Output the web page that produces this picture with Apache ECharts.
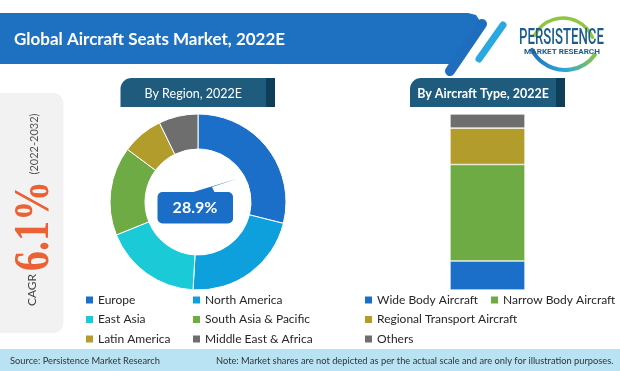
<!DOCTYPE html>
<html><head><meta charset="utf-8">
<script src="https://cdn.jsdelivr.net/npm/echarts@6/dist/echarts.min.js"></script>
<style>html,body{margin:0;padding:0;background:#fff}#c{width:620px;height:371px}</style>
</head><body><div id="c"></div>
<script>
var regionNames = ['Europe','North America','East Asia','South Asia & Pacific','Latin America','Middle East & Africa'];
var regionValues = [28.9, 22.0, 18.0, 16.3, 7.6, 7.2];
var regionColors = ['#1b6fc8','#0ea0dc','#1bcad7','#6fab45','#b19c2c','#6e6e6e'];
var typeNames = ['Wide Body Aircraft','Narrow Body Aircraft','Regional Transport Aircraft','Others'];
var typeValues = [16.5, 54.8, 20.7, 8.0];
var typeColors = ['#1b6fc8','#6fab45','#b19c2c','#6e6e6e'];
var calloutText = '28.9%';

var F = 'Lato, "Noto Sans", sans-serif';
var chart = echarts.init(document.getElementById('c'), null, {renderer:'canvas'});

var pieData = regionNames.map(function(n,i){return {name:n, value:regionValues[i], itemStyle:{color:regionColors[i]}};});
var barSeries = typeNames.map(function(n,i){
  return {name:n, type:'bar', stack:'t', barWidth:'100%', data:[typeValues[i]],
    itemStyle:{color:typeColors[i], borderColor:'#fff', borderWidth:0.6}, silent:true};
});

function legend(data, left, top){
  return {data:data, left:left, top:top, orient:'vertical', itemWidth:9, itemHeight:9, itemGap:5.5,
    padding:0, icon:'rect', selectedMode:false,
    textStyle:{fontFamily:F, fontSize:12, color:'#262626', lineHeight:14, padding:[0,0,0,-1]}};
}

function tab(x, w, text, bold){
  return {type:'group', children:[
    {type:'rect', shape:{x:x, y:78, width:w, height:29, r:[11,0,0,0]}, style:{fill:'#1e5b7c'}},
    {type:'rect', shape:{x:x+w-9, y:78, width:9, height:29}, style:{fill:'#0f3e58'}},
    {type:'text', x:x+(w-9)/2, y:93.5, style:{text:text, fill:'#fff', font:(bold?'bold ':'')+'12.5px '+F, textAlign:'center', textVerticalAlign:'middle'}}
  ]};
}

var option = {
  animation:false,
  backgroundColor:'#fff',
  grid:{left:450, top:114, width:75, height:176},
  xAxis:{type:'category', data:[''], show:false},
  yAxis:{type:'value', min:0, max:100, show:false},
  legend:[
    legend(['Europe','East Asia','Latin America'], 84, 293),
    legend(['North America','South Asia & Pacific','Middle East & Africa'], 191, 293),
    legend(['Wide Body Aircraft','Regional Transport Aircraft','Others'], 363, 293),
    legend(['Narrow Body Aircraft'], 489, 293)
  ],
  series:[{
    type:'pie', center:[198,202], radius:[53,88], startAngle:90, clockwise:true,
    label:{show:false}, labelLine:{show:false}, silent:true,
    itemStyle:{borderColor:'#fff', borderWidth:1},
    data:pieData
  }].concat(barSeries),
  graphic:[
    // header band
    {type:'polygon', shape:{points:[[0,13],[468,13],[476,15],[480,21],[456,64],[0,64]]}, style:{fill:'#1e70c0'}},
    {type:'line', shape:{x1:450, y1:71, x2:482, y2:24}, style:{stroke:'#1f6dbd', lineWidth:10, lineCap:'round'}},
    {type:'line', shape:{x1:479, y1:59, x2:503, y2:25}, style:{stroke:'#2aa8e0', lineWidth:7, lineCap:'round'}},
    {type:'text', x:14, y:40, style:{text:'Global Aircraft Seats Market, 2022E', fill:'#fff', font:'bold 17px '+F, textVerticalAlign:'middle'}},
    // logo
    {type:'arc', shape:{cx:563, cy:50, r:32, startAngle:Math.PI*1.15, endAngle:Math.PI*1.87}, style:{stroke:'#8dc63f', lineWidth:3.5, fill:null, lineCap:'round'}},
    {type:'arc', shape:{cx:565, cy:33, r:37, startAngle:Math.PI*0.2, endAngle:Math.PI*0.85}, style:{stroke:new echarts.graphic.LinearGradient(1,0,0,0,[{offset:0,color:'#8dc63f'},{offset:0.5,color:'#2ba6dc'},{offset:1,color:'#1e6fb8'}]), lineWidth:4, fill:null, lineCap:'round'}},
    {type:'text', x:561.5, y:38, scaleX:0.6, style:{text:'PERSISTENCE', fill:'#1c5d8c', font:'500 22px Roboto, sans-serif', textAlign:'center', textVerticalAlign:'middle'}},
    {type:'text', x:562, y:52.5, scaleX:1.25, style:{text:'MARKET RESEARCH', fill:'#1c5d8c', font:'bold 6.5px Roboto, sans-serif', textAlign:'center', textVerticalAlign:'middle'}},
    // CAGR panel
    {type:'rect', shape:{x:-12, y:93, width:75.5, height:240, r:10}, style:{fill:'#f2f2f2'}},
    {type:'text', x:32, y:290, rotation:Math.PI/2, style:{text:'CAGR', fill:'#444', font:'12px '+F, textAlign:'center', textVerticalAlign:'middle'}},
    {type:'text', x:35, y:226, rotation:Math.PI/2, scaleX:0.8, style:{text:'6.1%', fill:'#ea6135', font:'bold 50px "Liberation Serif", serif', textAlign:'center', textVerticalAlign:'middle'}},
    {type:'text', x:34, y:144, rotation:Math.PI/2, style:{text:'(2022-2032)', fill:'#555', font:'11px '+F, textAlign:'center', textVerticalAlign:'middle'}},
    // tabs
    tab(120.5, 154.5, 'By Region, 2022E', false),
    tab(410, 155, 'By Aircraft Type, 2022E', true),
    // callout
    {type:'polygon', shape:{points:[[190,193],[238,178.5],[212,187],[215,193]]}, style:{fill:'#1b6ec8'}},
    {type:'rect', shape:{x:157.5, y:192, width:75.5, height:31.5, r:5}, style:{fill:'#1b6ec8'}},
    {type:'text', x:195, y:208, style:{text:calloutText, fill:'#fff', font:'bold 16px '+F, textAlign:'center', textVerticalAlign:'middle'}},
    // footer
    {type:'rect', shape:{x:0, y:349, width:620, height:22}, style:{fill:'#b9e3f3'}},
    {type:'text', x:10, y:361, style:{text:'Source: Persistence Market Research', fill:'#333', font:'9.3px '+F, textVerticalAlign:'middle'}},
    {type:'text', x:216, y:361, style:{text:'Note: Market shares are not depicted as per the actual scale and are only for illustration purposes.', fill:'#333', font:'9.3px '+F, textVerticalAlign:'middle'}}
  ]
};
chart.setOption(option);
</script></body></html>
